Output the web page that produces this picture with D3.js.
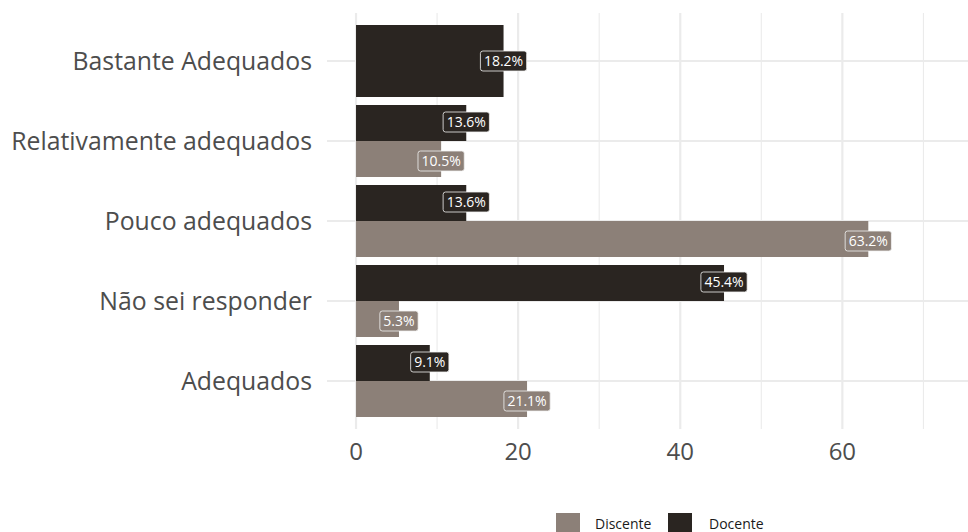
<!DOCTYPE html>
<html><head><meta charset="utf-8">
<script src="https://cdn.jsdelivr.net/npm/d3@7"></script>
<style>body{margin:0;background:#fff}svg{display:block}</style>
</head><body><svg id="c" width="968" height="532"></svg>
<script>
const categories = ["Bastante Adequados","Relativamente adequados","Pouco adequados","Não sei responder","Adequados"];
const docente  = [18.2, 13.6, 13.6, 45.4, 9.1];
const discente = [null, 10.5, 63.2, 5.3, 21.1];
const groups = ["Discente","Docente"];
const colors = {Discente:"#8c8078", Docente:"#2a2521"};
const xTicks = [0,20,40,60];
const xMinor = [10,30,50,70];

const svg = d3.select("#c");
const font = "'Open Sans', 'Noto Sans', sans-serif";
const panel = {left:327, right:968, top:13, bottom:429};
const x = d3.scaleLinear().domain([-3.58, 75.5]).range([panel.left, panel.right]);
const y = d3.scaleBand().domain(categories).range([panel.top, panel.bottom]).paddingInner(0.1).paddingOuter(0.15);
const inner = d3.scaleBand().domain(["Docente","Discente"]).range([0, y.bandwidth()]);

const g = svg.append("g");
// grid
g.selectAll(".minor").data(xMinor).join("line")
  .attr("x1",d=>x(d)).attr("x2",d=>x(d)).attr("y1",panel.top).attr("y2",panel.bottom)
  .attr("stroke","#ebebeb").attr("stroke-width",1.1);
g.selectAll(".major").data(xTicks).join("line")
  .attr("x1",d=>x(d)).attr("x2",d=>x(d)).attr("y1",panel.top).attr("y2",panel.bottom)
  .attr("stroke","#ebebeb").attr("stroke-width",2.2);
g.selectAll(".hgrid").data(categories).join("line")
  .attr("x1",panel.left).attr("x2",panel.right)
  .attr("y1",d=>y(d)+y.bandwidth()/2).attr("y2",d=>y(d)+y.bandwidth()/2)
  .attr("stroke","#ebebeb").attr("stroke-width",2.2);

// bars data
const bars = [];
categories.forEach((c,i)=>{
  const hasD = discente[i] !== null;
  if (hasD) {
    bars.push({c, grp:"Docente", v:docente[i], y0:y(c)+inner("Docente"), h:inner.bandwidth()});
    bars.push({c, grp:"Discente", v:discente[i], y0:y(c)+inner("Discente"), h:inner.bandwidth()});
  } else {
    bars.push({c, grp:"Docente", v:docente[i], y0:y(c), h:y.bandwidth()});
  }
});
g.selectAll(".bar").data(bars).join("rect")
  .attr("x",x(0)).attr("y",d=>d.y0).attr("width",d=>x(d.v)-x(0)).attr("height",d=>d.h)
  .attr("fill",d=>colors[d.grp]);

// labels
const lg = g.selectAll(".lab").data(bars).join("g")
  .attr("transform",d=>`translate(${x(d.v)},${d.y0+d.h/2 + (d.h<y.bandwidth() ? (d.grp==="Discente"?2:-1) : 0)})`);
lg.each(function(d){
  const s = d3.select(this);
  const t = s.append("text").text(d.v.toFixed(1)+"%")
    .attr("text-anchor","middle").attr("dy","0.36em")
    .attr("font-family",font).attr("font-size",14).attr("fill","#fff");
  const bb = t.node().getBBox();
  s.insert("rect","text").attr("x",bb.x-3.5).attr("y",-10).attr("width",bb.width+7).attr("height",20)
   .attr("rx",2.5).attr("fill",colors[d.grp]).attr("stroke","#f2f2f2").attr("stroke-width",0.8);
});

// y axis labels
g.selectAll(".ylab").data(categories).join("text")
  .attr("x",312).attr("y",d=>y(d)+y.bandwidth()/2).attr("dy","0.35em")
  .attr("text-anchor","end").attr("font-family",font).attr("font-size",24.8).attr("fill","#4d4d4d")
  .text(d=>d);
// x axis labels
g.selectAll(".xlab").data(xTicks).join("text")
  .attr("x",d=>x(d)).attr("y",452).attr("dy","0.35em")
  .attr("text-anchor","middle").attr("font-family",font).attr("font-size",24).attr("fill","#4d4d4d")
  .text(d=>d);

// legend
const leg = [{k:"Discente", x:556, tx:595},{k:"Docente", x:668, tx:709}];
const lgG = svg.append("g");
leg.forEach(l=>{
  lgG.append("rect").attr("x",l.x).attr("y",513).attr("width",24).attr("height",20).attr("fill",colors[l.k]);
  lgG.append("text").attr("x",l.tx).attr("y",524).attr("dy","0.35em").attr("font-family",font)
    .attr("font-size",14).attr("fill","#1a1a1a").text(l.k);
});
</script></body></html>
